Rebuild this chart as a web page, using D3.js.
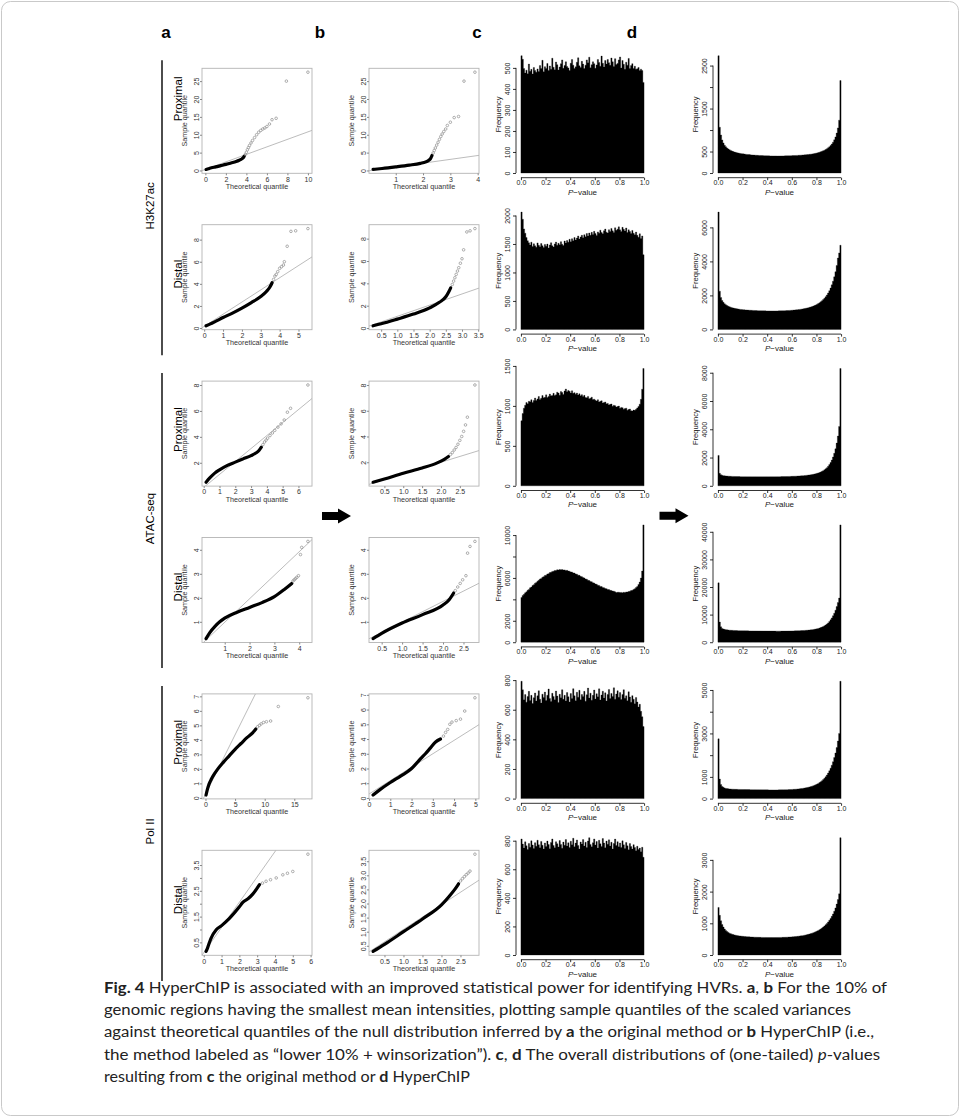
<!DOCTYPE html>
<html>
<head>
<meta charset="utf-8">
<script src="https://cdn.jsdelivr.net/npm/d3@7"></script>
<style>
  body { margin: 0; background: #fff; }
  svg text { font-family: "Liberation Sans", Arial, sans-serif; }
  .caption text { font-family: Lato, "Open Sans", sans-serif; fill: #222; }
</style>
</head>
<body>
<svg id="fig"></svg>
<script>
// ─── Data: QQ plots (columns a, b) ────────────────────────────────────────────
// Each QQ panel: dense black run of points, grey tail points, reference line [intercept, slope].
const qqA1Curve = [[0.07,0.3],[0.3,0.5],[0.6,0.75],[1.0,1.0],[1.5,1.35],[2.0,1.7],[2.5,2.1],[3.0,2.5],[3.3,2.85],[3.5,3.15],[3.7,3.6],[3.8,4.0]];
const qqA1Tail  = [[3.9,4.5],[4.0,5.1],[4.1,5.8],[4.2,6.4],[4.3,7.0],[4.45,7.7],[4.6,8.4],[4.8,9.2],[5.0,10.0],[5.2,10.7],[5.4,11.2],[5.6,11.6],[5.8,11.9],[6.0,12.3],[6.25,13.0],[6.5,14.2],[6.9,14.6],[7.9,25.0],[10.0,27.5]];
const qqA1Line  = [0.3, 1.05];
const qqA1XTicks = [0, 2, 4, 6, 8, 10];
const qqA1YTicks = [0, 5, 10, 15, 20, 25];

const qqB1Curve = [[0.17,0.3],[0.5,0.55],[1.0,1.0],[1.5,1.5],[1.9,2.0],[2.1,2.4],[2.2,2.8],[2.28,3.4],[2.33,4.2]];
const qqB1Tail  = [[2.37,4.9],[2.41,5.6],[2.45,6.3],[2.5,7.1],[2.55,7.9],[2.6,8.7],[2.65,9.5],[2.7,10.2],[2.76,10.9],[2.83,11.6],[2.89,12.6],[3.0,13.5],[3.14,14.8],[3.3,15.1],[3.5,25.0],[3.9,27.5]];
const qqB1Line  = [-0.1, 1.07];
const qqB1XTicks = [1, 2, 3, 4];
const qqB1YTicks = [0, 5, 10, 15, 20, 25];

const qqA2Curve = [[0.1,0.2],[0.3,0.35],[0.6,0.6],[1.0,0.95],[1.5,1.35],[2.0,1.8],[2.5,2.3],[3.0,2.85],[3.3,3.3],[3.5,3.75],[3.6,4.1]];
const qqA2Tail  = [[3.68,4.4],[3.75,4.7],[3.82,4.85],[3.9,5.1],[4.0,5.4],[4.1,5.55],[4.2,5.7],[4.25,6.0],[4.4,7.4],[4.6,8.75],[4.85,8.8],[5.5,9.0]];
const qqA2Line  = [0.15, 1.1];
const qqA2XTicks = [0, 1, 2, 3, 4, 5];
const qqA2YTicks = [0, 2, 4, 6, 8];

const qqB2Curve = [[0.25,0.2],[0.5,0.38],[1.0,0.8],[1.5,1.25],[2.0,1.8],[2.3,2.3],[2.5,2.8],[2.6,3.3],[2.65,3.6]];
const qqB2Tail  = [[2.7,3.9],[2.74,4.2],[2.78,4.5],[2.82,4.8],[2.86,5.1],[2.9,5.4],[2.95,5.8],[3.0,6.2],[3.05,7.0],[3.15,8.6],[3.25,8.7],[3.4,8.9]];
const qqB2Line  = [0.05, 1.0];
const qqB2XTicks = [0.5, 1.0, 1.5, 2.0, 2.5, 3.0, 3.5];
const qqB2YTicks = [0, 2, 4, 6, 8];

const qqA3Curve = [[0.15,0.5],[0.4,0.85],[0.7,1.2],[1.0,1.45],[1.5,1.8],[2.0,2.05],[2.5,2.3],[3.0,2.55],[3.3,2.75],[3.5,2.95],[3.65,3.2]];
const qqA3Tail  = [[3.75,3.4],[3.85,3.6],[3.95,3.75],[4.05,3.9],[4.2,4.1],[4.35,4.3],[4.5,4.5],[4.7,4.75],[4.9,5.0],[5.1,5.3],[5.3,5.9],[5.5,6.2],[6.6,8.0]];
const qqA3Line  = [0.1, 1.0];
const qqA3XTicks = [0, 1, 2, 3, 4, 5, 6];
const qqA3YTicks = [2, 4, 6, 8];

const qqB3Curve = [[0.2,0.45],[0.5,0.7],[1.0,1.15],[1.5,1.55],[1.9,1.95],[2.1,2.25],[2.2,2.45]];
const qqB3Tail  = [[2.25,2.6],[2.3,2.75],[2.35,2.95],[2.4,3.15],[2.45,3.4],[2.5,3.7],[2.55,4.0],[2.6,4.4],[2.65,4.9],[2.7,5.5],[2.9,8.0]];
const qqB3Line  = [0.2, 0.9];
const qqB3XTicks = [0.5, 1.0, 1.5, 2.0, 2.5];
const qqB3YTicks = [2, 4, 6, 8];

const qqA4Curve = [[0.25,0.3],[0.4,0.55],[0.6,0.8],[0.8,1.0],[1.0,1.15],[1.5,1.4],[2.0,1.6],[2.5,1.8],[3.0,2.05],[3.4,2.35],[3.7,2.6]];
const qqA4Tail  = [[3.75,2.7],[3.8,2.75],[3.85,2.8],[3.9,2.85],[3.97,2.92],[4.05,3.8],[4.1,4.1],[4.35,4.35]];
const qqA4Line  = [0.0, 0.98];
const qqA4XTicks = [1, 2, 3, 4];
const qqA4YTicks = [1, 2, 3, 4];

const qqB4Curve = [[0.29,0.3],[0.5,0.52],[1.0,0.95],[1.5,1.3],[2.0,1.7],[2.15,1.92],[2.26,2.2]];
const qqB4Tail  = [[2.3,2.3],[2.36,2.45],[2.42,2.6],[2.48,2.75],[2.56,2.92],[2.6,3.86],[2.66,4.14],[2.78,4.35]];
const qqB4Line  = [0.13, 0.86];
const qqB4XTicks = [0.5, 1.0, 1.5, 2.0, 2.5];
const qqB4YTicks = [1, 2, 3, 4];

const qqA5Curve = [[0.1,0.2],[0.3,0.55],[0.6,0.95],[1.0,1.3],[1.5,1.65],[2.0,1.95],[3.0,2.45],[4.0,2.9],[5.0,3.35],[6.0,3.75],[7.0,4.15],[8.0,4.5],[8.5,4.75]];
const qqA5Tail  = [[8.8,4.9],[9.1,5.0],[9.4,5.1],[9.8,5.2],[10.3,5.25],[11.0,5.3],[12.3,6.3],[17.3,6.9]];
const qqA5Line  = [0.25, 0.82];
const qqA5XTicks = [0, 5, 10, 15];
const qqA5YTicks = [0, 1, 2, 3, 4, 5, 6, 7];

const qqB5Curve = [[0.19,0.2],[0.5,0.55],[1.0,1.05],[1.5,1.5],[2.0,2.0],[2.26,2.4],[2.45,2.7],[2.65,3.0],[2.89,3.4],[3.13,3.8],[3.36,4.0]];
const qqB5Tail  = [[3.5,4.2],[3.6,4.45],[3.7,4.65],[3.8,5.0],[3.9,5.15],[4.1,5.25],[4.3,5.35],[4.5,5.9],[4.98,6.8]];
const qqB5Line  = [0.27, 0.91];
const qqB5XTicks = [0, 1, 2, 3, 4, 5];
const qqB5YTicks = [0, 1, 2, 3, 4, 5, 6, 7];

const qqA6Curve = [[0.13,0.15],[0.22,0.3],[0.4,0.65],[0.7,0.99],[1.0,1.15],[1.44,1.43],[2.0,1.88],[2.19,2.05],[2.5,2.2],[2.75,2.37],[3.13,2.74]];
const qqA6Tail  = [[3.3,2.8],[3.5,2.87],[3.75,2.93],[4.07,3.0],[4.44,3.12],[4.7,3.18],[5.0,3.25],[5.85,3.92]];
const qqA6Line  = [0.1, 0.98];
const qqA6XTicks = [0, 1, 2, 3, 4, 5, 6];
const qqA6YTicks = [0.5, 1.0, 1.5, 2.0, 2.5, 3.0, 3.5];
const qqA6YLabels = [0.5, 1.5, 2.5, 3.5];

const qqB6Curve = [[0.2,0.3],[0.5,0.55],[1.0,1.0],[1.5,1.45],[2.0,1.95],[2.2,2.25],[2.35,2.5],[2.45,2.7]];
const qqB6Tail  = [[2.5,2.8],[2.55,2.88],[2.6,2.95],[2.65,3.02],[2.7,3.08],[2.75,3.15],[2.88,3.75]];
const qqB6Line  = [0.2, 0.88];
const qqB6XTicks = [0.5, 1.0, 1.5, 2.0, 2.5];
const qqB6YTicks = [0.5, 1.0, 1.5, 2.0, 2.5, 3.0, 3.5];

// ─── Data: p-value histograms (columns c, d), 100 bins of width 0.01 ──────────
const histC1 = [
  558,541,497,476,489,472,518,484,493,471, 502,488,479,495,483,511,497,536,482,506,
  497,521,488,509,494,546,503,491,528,515, 490,504,520,538,498,511,529,507,500,487,
  522,540,513,497,505,527,548,510,502,531, 518,497,513,538,525,551,501,515,529,520,
  498,514,540,526,508,556,522,504,535,518, 540,525,512,547,529,507,544,516,521,538,
  552,500,535,517,493,527,513,545,497,511, 520,497,508,493,496,502,488,494,487,431];
const histC1Ticks = [0, 100, 200, 300, 400, 500];

const histC2 = [
  2060,1935,1765,1690,1612,1558,1521,1483,1532,1458, 1503,1468,1442,1519,1478,1451,1508,1470,1437,1492,
  1461,1498,1429,1483,1522,1468,1447,1501,1533,1479, 1512,1488,1541,1497,1473,1552,1518,1561,1529,1583,
  1538,1592,1557,1612,1571,1603,1641,1588,1622,1653, 1609,1662,1628,1684,1640,1693,1652,1704,1668,1722,
  1683,1651,1712,1688,1742,1701,1679,1733,1762,1708, 1692,1751,1718,1773,1731,1703,1784,1739,1759,1801,
  1748,1721,1792,1757,1729,1781,1702,1748,1719,1683, 1738,1688,1661,1709,1652,1618,1679,1598,1641,1312];
const histC2Ticks = [0, 500, 1000, 1500, 2000];

const histC3 = [
  815,905,972,1008,1041,1026,1058,1052,1077,1044, 1069,1098,1066,1087,1118,1081,1096,1129,1101,1107,
  1138,1104,1119,1148,1126,1131,1157,1129,1139,1172, 1160,1134,1179,1168,1142,1187,1211,1176,1194,1183,
  1162,1189,1157,1166,1147,1160,1136,1151,1128,1141, 1117,1132,1105,1101,1119,1088,1096,1109,1079,1084,
  1072,1061,1077,1050,1058,1063,1037,1044,1049,1026, 1031,1012,1019,1024,996,1008,1003,985,992,998,
  969,981,977,958,966,972,947,955,961,940, 936,948,944,958,975,992,1021,1082,1209,1468];
const histC3Ticks = [0, 500, 1000, 1500];

const histC4 = [
  4180,4370,4470,4610,4700,4850,4930,5080,5150,5300, 5370,5510,5570,5700,5780,5900,5950,6070,6120,6230,
  6260,6370,6400,6500,6520,6610,6620,6700,6690,6760, 6740,6790,6760,6780,6740,6750,6700,6710,6640,6630,
  6560,6550,6470,6450,6370,6350,6260,6240,6150,6120, 6030,6000,5910,5880,5790,5760,5670,5640,5550,5520,
  5430,5410,5320,5300,5210,5190,5110,5090,5010,5000, 4920,4910,4840,4830,4770,4760,4700,4640,4660,4670,
  4640,4650,4620,4660,4650,4690,4690,4740,4760,4820, 4850,4930,4990,5100,5200,5390,5610,5990,6640,10950];
const histC4Ticks = [0, 2000, 4000, 6000, 8000, 10000];
const histC4Labels = [0, 2000, 6000, 10000];

const histC5 = [
  792,735,668,702,651,689,724,663,697,642, 681,713,659,694,728,671,646,705,683,719,
  662,698,740,676,655,711,689,667,726,693, 648,704,681,735,670,697,659,716,688,652,
  709,676,742,694,661,718,685,731,667,703, 690,724,658,701,746,679,712,664,697,733,
  672,708,687,741,666,699,725,680,714,659, 703,737,676,710,689,748,671,706,728,684,
  716,669,702,735,678,694,661,721,686,650, 695,671,640,683,652,618,637,589,553,486];
const histC5Ticks = [0, 200, 400, 600, 800];

const histC6 = [
  812,776,748,792,765,738,781,754,799,770, 745,786,761,803,772,750,795,768,741,784,
  759,797,773,744,788,812,766,751,793,779, 756,801,774,747,790,768,808,762,785,753,
  796,771,817,758,783,805,767,742,791,776, 808,763,789,752,798,821,774,757,786,812,
  769,794,748,803,778,760,815,783,751,797, 775,806,763,789,742,780,811,766,793,758,
  784,752,799,771,745,788,764,736,780,759, 741,772,753,729,761,738,748,722,754,684];
const histC6Ticks = [0, 200, 400, 600, 800];

const histD1 = [
  2730,1065,885,770,700,648,612,583,561,540, 526,511,498,489,481,472,466,459,455,449,
  446,440,437,433,430,428,424,421,419,417, 414,413,411,409,408,406,405,404,402,401,
  400,400,398,398,397,396,397,396,395,396, 396,397,397,398,399,400,401,402,403,404,
  405,406,407,409,410,412,414,416,418,420, 422,425,428,431,435,439,443,448,454,460,
  467,475,484,494,505,518,532,548,566,587, 611,640,675,718,772,840,930,1050,1230,2150];
const histD1Ticks = [0, 500, 1000, 1500, 2000, 2500];
const histD1Labels = [0, 500, 1500, 2500];

const histD2 = [
  6900,2250,1880,1700,1590,1510,1450,1400,1360,1330, 1300,1280,1260,1240,1225,1210,1200,1188,1178,1170,
  1162,1155,1148,1142,1136,1131,1126,1122,1118,1114, 1110,1107,1104,1101,1099,1097,1095,1093,1092,1090,
  1089,1088,1088,1087,1087,1088,1088,1089,1090,1091, 1093,1095,1097,1100,1103,1106,1110,1114,1119,1124,
  1130,1136,1143,1151,1159,1168,1178,1189,1201,1214, 1228,1244,1261,1280,1300,1323,1348,1376,1407,1441,
  1480,1523,1571,1625,1686,1755,1833,1922,2024,2142, 2278,2436,2620,2835,3090,3395,3760,4200,4500,4950];
const histD2Ticks = [0, 2000, 4000, 6000];

const histD3 = [
  2150,880,790,745,720,705,695,688,682,676, 671,667,663,660,657,655,652,650,649,647,
  646,645,644,643,642,641,641,640,640,639, 639,639,638,638,638,638,638,639,639,639,
  640,640,641,641,642,643,644,645,646,647, 648,650,652,654,656,658,660,663,666,669,
  672,676,680,684,689,694,700,706,713,720, 728,737,747,758,770,784,799,816,835,857,
  882,910,942,979,1022,1072,1131,1200,1282,1380, 1500,1645,1820,2040,2300,2620,3020,3520,4200,8300];
const histD3Ticks = [0, 2000, 4000, 6000, 8000];

const histD4 = [
  21500,7300,5600,5000,4800,4650,4550,4480,4420,4370, 4330,4300,4270,4250,4230,4210,4190,4180,4170,4160,
  4150,4140,4130,4120,4110,4100,4095,4090,4085,4080, 4075,4070,4065,4060,4055,4050,4045,4040,4040,4035,
  4030,4030,4025,4025,4020,4020,4020,4015,4015,4015, 4015,4020,4020,4025,4030,4035,4040,4050,4060,4070,
  4080,4095,4110,4125,4140,4160,4180,4200,4225,4250, 4280,4310,4345,4385,4430,4480,4540,4610,4690,4780,
  4880,5000,5140,5300,5480,5700,5950,6250,6600,7000, 7500,8100,8800,9600,10500,11600,12900,14400,16000,42500];
const histD4Ticks = [0, 10000, 20000, 30000, 40000];

const histD5 = [
  2750,900,650,560,520,490,470,460,450,445, 440,436,433,430,428,426,424,422,421,420,
  419,418,417,416,415,414,413,412,411,410, 409,408,407,406,405,404,404,403,403,402,
  402,401,401,400,400,400,400,401,401,402, 403,404,405,406,408,410,412,414,417,420,
  423,427,431,436,441,447,454,461,469,478, 488,499,511,524,539,555,573,593,615,640,
  668,700,736,777,823,876,937,1006,1085,1175, 1280,1400,1540,1700,1890,2100,2350,2650,3000,5400];
const histD5Ticks = [0, 1000, 2000, 3000, 4000, 5000];
const histD5Labels = [0, 1000, 3000, 5000];

const histD6 = [
  1500,1250,1080,960,880,820,775,740,712,690, 672,657,644,633,624,616,609,603,598,593,
  589,585,581,578,575,572,570,568,566,564, 562,561,559,558,557,556,555,554,554,553,
  553,552,552,552,552,552,552,553,553,554, 555,556,557,558,560,562,564,566,568,571,
  574,577,581,585,589,594,599,605,611,618, 626,634,643,653,664,676,689,703,719,736,
  755,776,799,824,852,883,917,955,997,1043, 1095,1153,1219,1295,1383,1485,1605,1750,1930,3700];
const histD6Ticks = [0, 1000, 2000, 3000];

// ─── Labels ───────────────────────────────────────────────────────────────────
const panelLetters = ["a", "b", "c", "d"];
const groupNames = ["H3K27ac", "ATAC-seq", "Pol II"];
const regionNames = ["Proximal", "Distal"];
const histXTicks = [0, 0.2, 0.4, 0.6, 0.8, 1.0];
const captionLines = [
  [["Fig. 4", "b"], ["  HyperChIP is associated with an improved statistical power for identifying HVRs. "], ["a", "b"], [", "], ["b", "b"], [" For the 10% of"]],
  [["genomic regions having the smallest mean intensities, plotting sample quantiles of the scaled variances"]],
  [["against theoretical quantiles of the null distribution inferred by "], ["a", "b"], [" the original method or "], ["b", "b"], [" HyperChIP (i.e.,"]],
  [["the method labeled as \u201Clower 10% + winsorization\u201D). "], ["c", "b"], [", "], ["d", "b"], [" The overall distributions of (one-tailed) "], ["p", "i"], ["-values"]],
  [["resulting from "], ["c", "b"], [" the original method or "], ["d", "b"], [" HyperChIP"]]
];
const captionWidths = [783, 747, 770, 776, 366];

// ─── Layout ───────────────────────────────────────────────────────────────────
const W = 960, H = 1117;
const ROW_STEP = 156.4;
const QQ = { top: 68.3, width: 110, height: 105, left: { a: 202, b: 369 } };
const HIST = { top: 51, width: 133, height: 126.7, left: { c: 516, d: 713 } };

const svg = d3.select("#fig").attr("width", W).attr("height", H);
const defs = svg.append("defs");

// R-style axis range: data extent extended by 4% on each side.
const pad = ([lo, hi]) => { const p = (hi - lo) * 0.04; return [lo - p, hi + p]; };
const fmtTicks = ticks => {
  const dec = ticks.some(t => !Number.isInteger(t)) ? 1 : 0;
  return v => v.toFixed(dec);
};

// Frame
svg.append("rect")
  .attr("x", 1.5).attr("y", 1.5).attr("width", W - 3).attr("height", H - 3)
  .attr("rx", 9).attr("fill", "#fff").attr("stroke", "#c9c9c9").attr("stroke-width", 1);

// ─── QQ panel ─────────────────────────────────────────────────────────────────
function drawQQ(p) {
  const left = QQ.left[p.col], top = QQ.top + p.row * ROW_STEP;
  const pts = p.curve.concat(p.tail);
  const x = d3.scaleLinear().domain(pad(d3.extent(pts, d => d[0]))).range([left, left + QQ.width]);
  const y = d3.scaleLinear().domain(pad(d3.extent(pts, d => d[1]))).range([top + QQ.height, top]);
  const g = svg.append("g");

  const clipId = `clip-${p.col}${p.row}`;
  defs.append("clipPath").attr("id", clipId).append("rect")
    .attr("x", left).attr("y", top).attr("width", QQ.width).attr("height", QQ.height);
  const plot = g.append("g").attr("clip-path", `url(#${clipId})`);

  const [b0, b1] = p.line;
  const xd = x.domain();
  plot.append("line")
    .attr("x1", x(xd[0])).attr("y1", y(b0 + b1 * xd[0]))
    .attr("x2", x(xd[1])).attr("y2", y(b0 + b1 * xd[1]))
    .attr("stroke", "#b4b4b4").attr("stroke-width", 0.9);

  plot.append("path").datum(p.curve)
    .attr("d", d3.line().x(d => x(d[0])).y(d => y(d[1])).curve(d3.curveMonotoneX))
    .attr("fill", "none").attr("stroke", "#000").attr("stroke-width", 3.2)
    .attr("stroke-linecap", "round").attr("stroke-linejoin", "round");

  plot.selectAll("circle").data(p.tail).join("circle")
    .attr("cx", d => x(d[0])).attr("cy", d => y(d[1])).attr("r", 1.3)
    .attr("fill", "none").attr("stroke", "#8c8c8c").attr("stroke-width", 0.7);

  g.append("rect")
    .attr("x", left).attr("y", top).attr("width", QQ.width).attr("height", QQ.height)
    .attr("fill", "none").attr("stroke", "#b4b4b4").attr("stroke-width", 0.9);

  // x axis
  const fx = fmtTicks(p.xTicks);
  const gx = g.append("g").attr("transform", `translate(0,${top + QQ.height})`)
    .call(d3.axisBottom(x).tickValues(p.xTicks).tickSize(2).tickFormat(fx));
  gx.select(".domain").remove();
  gx.selectAll(".tick line").attr("stroke", "#888");
  gx.selectAll(".tick text").attr("y", 8.3).attr("dy", 0)
    .attr("font-size", 7).attr("fill", "#333").attr("font-family", "Liberation Sans, Arial");

  // y axis (labels parallel to the axis, as R does by default)
  const fy = fmtTicks(p.yTicks);
  const shown = p.yLabels || p.yTicks;
  const gy = g.append("g").attr("transform", `translate(${left},0)`)
    .call(d3.axisLeft(y).tickValues(p.yTicks).tickSize(2).tickFormat(v => shown.includes(v) ? fy(v) : ""));
  gy.select(".domain").remove();
  gy.selectAll(".tick line").attr("stroke", "#888");
  gy.selectAll(".tick text").attr("transform", "rotate(-90)")
    .attr("x", 0).attr("y", -3).attr("dy", 0).attr("text-anchor", "middle")
    .attr("font-size", 7).attr("fill", "#333").attr("font-family", "Liberation Sans, Arial");

  g.append("text")
    .attr("x", left + QQ.width / 2).attr("y", top + QQ.height + 15.5)
    .attr("text-anchor", "middle").attr("font-size", 7.2).attr("fill", "#333")
    .text("Theoretical quantile");
  g.append("text")
    .attr("transform", `translate(${left - 15},${top + QQ.height / 2}) rotate(-90)`)
    .attr("text-anchor", "middle").attr("font-size", 7.2).attr("fill", "#333")
    .text("Sample quantile");
}

// ─── Histogram panel ──────────────────────────────────────────────────────────
function drawHist(p) {
  const left = HIST.left[p.col], top = HIST.top + p.row * ROW_STEP;
  const bottom = top + HIST.height;
  const n = p.counts.length;
  const x = d3.scaleLinear().domain(pad([0, 1])).range([left, left + HIST.width]);
  const y = d3.scaleLinear().domain(pad([0, d3.max(p.counts)])).range([bottom, top]);
  const g = svg.append("g");

  // Bars as one stepped area so neighbouring bins merge into a solid block.
  const steps = p.counts.map((c, i) => [i / n, c]).concat([[1, p.counts[n - 1]]]);
  g.append("path").datum(steps)
    .attr("d", d3.area().curve(d3.curveStepAfter)
      .x(d => x(d[0])).y0(y(0)).y1(d => y(d[1])))
    .attr("fill", "#000").attr("stroke", "#000").attr("stroke-width", 0.3);

  // x axis: line spans the first to last tick
  g.append("line")
    .attr("x1", x(histXTicks[0])).attr("x2", x(histXTicks[histXTicks.length - 1]))
    .attr("y1", bottom).attr("y2", bottom).attr("stroke", "#000").attr("stroke-width", 0.8);
  const gx = g.append("g").attr("transform", `translate(0,${bottom})`)
    .call(d3.axisBottom(x).tickValues(histXTicks).tickSize(2.5).tickFormat(d3.format(".1f")));
  gx.select(".domain").remove();
  gx.selectAll(".tick line").attr("stroke", "#000").attr("stroke-width", 0.8);
  gx.selectAll(".tick text").attr("y", 7.6).attr("dy", 0)
    .attr("font-size", 7).attr("fill", "#222").attr("font-family", "Liberation Sans, Arial");

  // y axis
  const ticks = p.yTicks;
  const shown = p.yLabels || ticks;
  g.append("line")
    .attr("x1", left).attr("x2", left)
    .attr("y1", y(ticks[0])).attr("y2", y(ticks[ticks.length - 1]))
    .attr("stroke", "#000").attr("stroke-width", 0.8);
  const gy = g.append("g").attr("transform", `translate(${left},0)`)
    .call(d3.axisLeft(y).tickValues(ticks).tickSize(3).tickFormat(v => shown.includes(v) ? String(v) : ""));
  gy.select(".domain").remove();
  gy.selectAll(".tick line").attr("stroke", "#000").attr("stroke-width", 0.8);
  gy.selectAll(".tick text").attr("transform", "rotate(-90)")
    .attr("x", 0).attr("y", -6.5).attr("dy", 0).attr("text-anchor", "middle")
    .attr("font-size", 7).attr("fill", "#222").attr("font-family", "Liberation Sans, Arial");

  g.append("text")
    .attr("transform", `translate(${left - 15.5},${(top + bottom) / 2}) rotate(-90)`)
    .attr("text-anchor", "middle").attr("font-size", 7.6).attr("fill", "#222")
    .text("Frequency");
  const pl = g.append("text")
    .attr("x", x(0.5)).attr("y", bottom + 16.8)
    .attr("text-anchor", "middle").attr("font-size", 8).attr("fill", "#222");
  pl.append("tspan").attr("font-style", "italic").text("P");
  pl.append("tspan").text("\u2212value");
}

// ─── Assemble panels ──────────────────────────────────────────────────────────
const qqPanels = [
  { row: 0, col: "a", curve: qqA1Curve, tail: qqA1Tail, line: qqA1Line, xTicks: qqA1XTicks, yTicks: qqA1YTicks },
  { row: 0, col: "b", curve: qqB1Curve, tail: qqB1Tail, line: qqB1Line, xTicks: qqB1XTicks, yTicks: qqB1YTicks },
  { row: 1, col: "a", curve: qqA2Curve, tail: qqA2Tail, line: qqA2Line, xTicks: qqA2XTicks, yTicks: qqA2YTicks },
  { row: 1, col: "b", curve: qqB2Curve, tail: qqB2Tail, line: qqB2Line, xTicks: qqB2XTicks, yTicks: qqB2YTicks },
  { row: 2, col: "a", curve: qqA3Curve, tail: qqA3Tail, line: qqA3Line, xTicks: qqA3XTicks, yTicks: qqA3YTicks },
  { row: 2, col: "b", curve: qqB3Curve, tail: qqB3Tail, line: qqB3Line, xTicks: qqB3XTicks, yTicks: qqB3YTicks },
  { row: 3, col: "a", curve: qqA4Curve, tail: qqA4Tail, line: qqA4Line, xTicks: qqA4XTicks, yTicks: qqA4YTicks },
  { row: 3, col: "b", curve: qqB4Curve, tail: qqB4Tail, line: qqB4Line, xTicks: qqB4XTicks, yTicks: qqB4YTicks },
  { row: 4, col: "a", curve: qqA5Curve, tail: qqA5Tail, line: qqA5Line, xTicks: qqA5XTicks, yTicks: qqA5YTicks },
  { row: 4, col: "b", curve: qqB5Curve, tail: qqB5Tail, line: qqB5Line, xTicks: qqB5XTicks, yTicks: qqB5YTicks },
  { row: 5, col: "a", curve: qqA6Curve, tail: qqA6Tail, line: qqA6Line, xTicks: qqA6XTicks, yTicks: qqA6YTicks, yLabels: qqA6YLabels },
  { row: 5, col: "b", curve: qqB6Curve, tail: qqB6Tail, line: qqB6Line, xTicks: qqB6XTicks, yTicks: qqB6YTicks }
];
const histPanels = [
  { row: 0, col: "c", counts: histC1, yTicks: histC1Ticks },
  { row: 1, col: "c", counts: histC2, yTicks: histC2Ticks },
  { row: 2, col: "c", counts: histC3, yTicks: histC3Ticks },
  { row: 3, col: "c", counts: histC4, yTicks: histC4Ticks, yLabels: histC4Labels },
  { row: 4, col: "c", counts: histC5, yTicks: histC5Ticks },
  { row: 5, col: "c", counts: histC6, yTicks: histC6Ticks },
  { row: 0, col: "d", counts: histD1, yTicks: histD1Ticks, yLabels: histD1Labels },
  { row: 1, col: "d", counts: histD2, yTicks: histD2Ticks },
  { row: 2, col: "d", counts: histD3, yTicks: histD3Ticks },
  { row: 3, col: "d", counts: histD4, yTicks: histD4Ticks },
  { row: 4, col: "d", counts: histD5, yTicks: histD5Ticks, yLabels: histD5Labels },
  { row: 5, col: "d", counts: histD6, yTicks: histD6Ticks }
];
qqPanels.forEach(drawQQ);
histPanels.forEach(drawHist);

// ─── Panel letters, row and group labels, arrows ──────────────────────────────
const letterX = [166, 320, 477, 632];
svg.selectAll("text.letter").data(panelLetters).join("text")
  .attr("class", "letter")
  .attr("x", (d, i) => letterX[i]).attr("y", 38)
  .attr("text-anchor", "middle").attr("font-size", 17).attr("font-weight", "bold")
  .text(d => d);

// The first "Proximal" label sits higher in its panel than the others.
const regionLabelShift = [-22, -3, -4, -3, -4, -3];
groupNames.forEach((name, gi) => {
  const top = QQ.top + gi * 2 * ROW_STEP;
  svg.append("line")
    .attr("x1", 162).attr("x2", 162)
    .attr("y1", top - 8).attr("y2", top + 287)
    .attr("stroke", "#000").attr("stroke-width", 1.4);
  svg.append("text")
    .attr("transform", `translate(154,${top + 137.5}) rotate(-90)`)
    .attr("text-anchor", "middle").attr("font-size", 11.5).text(name);
  regionNames.forEach((r, ri) => {
    const rt = top + ri * ROW_STEP;
    svg.append("text")
      .attr("transform", `translate(181.5,${rt + QQ.height / 2 + regionLabelShift[gi * 2 + ri]}) rotate(-90)`)
      .attr("text-anchor", "middle").attr("font-size", 11.5).text(r);
  });
});

const arrowShape = "M0,-4 L16,-4 L16,-7.5 L29,0 L16,7.5 L16,4 L0,4 Z";
[[322, 516], [659.5, 515.7]].forEach(([ax, ay]) => {
  svg.append("path").attr("d", arrowShape)
    .attr("transform", `translate(${ax},${ay})`).attr("fill", "#000");
});

// ─── Caption ──────────────────────────────────────────────────────────────────
const cap = svg.append("g").attr("class", "caption");
captionLines.forEach((segs, i) => {
  const t = cap.append("text")
    .attr("x", 104).attr("y", 993 + i * 22.2)
    .attr("font-size", 15.5)
    .attr("textLength", captionWidths[i]).attr("lengthAdjust", "spacingAndGlyphs");
  segs.forEach(([s, style]) => {
    const ts = t.append("tspan").text(s);
    if (style === "b") ts.attr("font-weight", "bold");
    if (style === "i") ts.attr("font-style", "italic");
  });
});
</script>
</body>
</html>
